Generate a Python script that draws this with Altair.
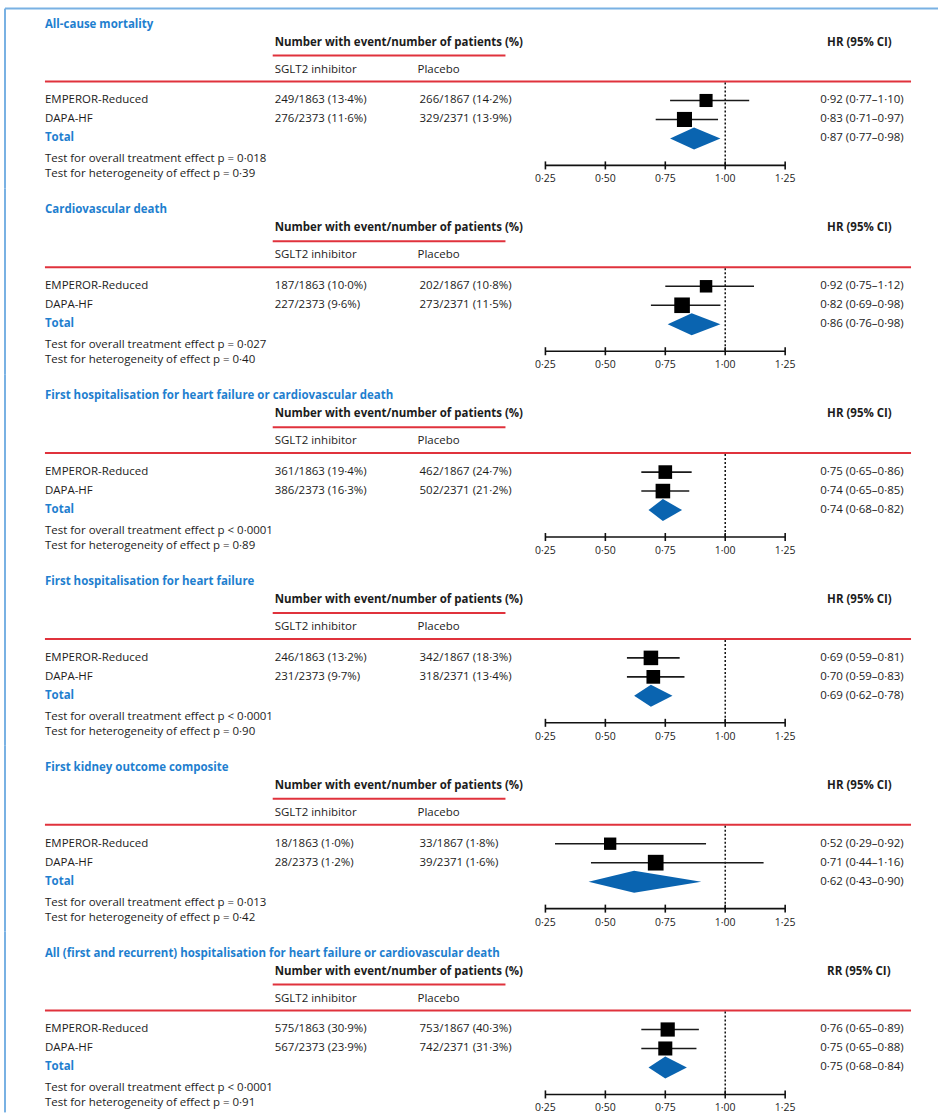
import altair as alt
import pandas as pd

titles = [
    "All-cause mortality",
    "Cardiovascular death",
    "First hospitalisation for heart failure or cardiovascular death",
    "First hospitalisation for heart failure",
    "First kidney outcome composite",
    "All (first and recurrent) hospitalisation for heart failure or cardiovascular death",
]
measure = ["HR", "HR", "HR", "HR", "HR", "RR"]
studies = ["EMPEROR-Reduced", "DAPA-HF"]
sglt2_n = [1863, 2373]
placebo_n = [1867, 2371]
sglt2_events = [[249, 276], [187, 227], [361, 386], [246, 231], [18, 28], [575, 567]]
sglt2_pct = [[13.4, 11.6], [10.0, 9.6], [19.4, 16.3], [13.2, 9.7], [1.0, 1.2], [30.9, 23.9]]
placebo_events = [[266, 329], [202, 273], [462, 502], [342, 318], [33, 39], [753, 742]]
placebo_pct = [[14.2, 13.9], [10.8, 11.5], [24.7, 21.2], [18.3, 13.4], [1.8, 1.6], [40.3, 31.3]]
hr = [[0.92, 0.83], [0.92, 0.82], [0.75, 0.74], [0.69, 0.70], [0.52, 0.71], [0.76, 0.75]]
hr_lo = [[0.77, 0.71], [0.75, 0.69], [0.65, 0.65], [0.59, 0.59], [0.29, 0.44], [0.65, 0.65]]
hr_hi = [[1.10, 0.97], [1.12, 0.98], [0.86, 0.85], [0.81, 0.83], [0.92, 1.16], [0.89, 0.88]]
tot_hr = [0.87, 0.86, 0.74, 0.69, 0.62, 0.75]
tot_lo = [0.77, 0.76, 0.68, 0.62, 0.43, 0.68]
tot_hi = [0.98, 0.98, 0.82, 0.78, 0.90, 0.84]
p_overall = ["= 0·018", "= 0·027", "< 0·0001", "< 0·0001", "= 0·013", "< 0·0001"]
p_het = ["0·39", "0·40", "0·89", "0·90", "0·42", "0·91"]
ticks = [0.25, 0.50, 0.75, 1.00, 1.25]
ref_value = 1.0

FONT = "Open Sans"
FS = 11.5
DARK = "#1c1c1c"
BLUE_T = "#1f7fcf"
RED = "#e0323c"
DIAMOND = "#0a64b0"
FRAME = "#79b1e3"


def d(v, nd=2):
    return f"{v:.{nd}f}".replace(".", "·")


xscale = alt.Scale(domain=[0.25, 1.25], range=[546, 786], zero=False, nice=False)
yscale = alt.Scale(domain=[0, 2], range=[98, 136], zero=False, nice=False)

one = pd.DataFrame({"k": [0]})


def static_text(label, x, y, color=DARK, bold=False, size=FS, align="left"):
    return alt.Chart(one).mark_text(
        text=label, align=align, baseline="middle", font=FONT, fontSize=size,
        fontWeight="bold" if bold else "normal", color=color,
    ).encode(x=alt.value(x), y=alt.value(y))


def hline(x1, x2, y, color, width=2):
    return alt.Chart(one).mark_rule(color=color, strokeWidth=width).encode(
        x=alt.value(x1), x2=alt.value(x2), y=alt.value(y))


def section(i, H):
    evs = [sglt2_events[i][j] + placebo_events[i][j] for j in range(2)]
    rows = pd.DataFrame({
        "study": studies,
        "row": [0, 1],
        "sg": [f"{sglt2_events[i][j]}/{sglt2_n[j]} ({d(sglt2_pct[i][j], 1)}%)" for j in range(2)],
        "pl": [f"{placebo_events[i][j]}/{placebo_n[j]} ({d(placebo_pct[i][j], 1)}%)" for j in range(2)],
        "est": hr[i],
        "lo": hr_lo[i],
        "hi": hr_hi[i],
        "w": [e / sum(evs) for e in evs],
    })
    rows["hrlab"] = [f"{d(hr[i][j])} ({d(hr_lo[i][j])}–{d(hr_hi[i][j])})" for j in range(2)]
    tot = pd.DataFrame({"row": [2], "lab": [f"{d(tot_hr[i])} ({d(tot_lo[i])}–{d(tot_hi[i])})"]})
    half = 0.58
    dia = pd.DataFrame({
        "x": [tot_lo[i], tot_hr[i], tot_hi[i]],
        "y": [2, 2 - half, 2],
        "y2": [2, 2 + half, 2],
    })
    tk = pd.DataFrame({"t": ticks, "lab": [d(t) for t in ticks]})
    axis_df = pd.DataFrame({"a": [min(ticks)], "b": [max(ticks)]})
    ref_df = pd.DataFrame({"r": [ref_value]})

    layers = []
    # frame
    if i == 0:
        layers.append(alt.Chart(one).mark_rule(color=FRAME, strokeWidth=2).encode(
            x=alt.value(5), y=alt.value(6), y2=alt.value(H)))
        layers.append(hline(5, 939, 6, FRAME))
    else:
        layers.append(alt.Chart(one).mark_rule(color=FRAME, strokeWidth=2).encode(
            x=alt.value(5), y=alt.value(0), y2=alt.value(H)))

    layers += [
        static_text(titles[i], 45, 22, color=BLUE_T, bold=True),
        static_text("Number with event/number of patients (%)", 275, 40, bold=True),
        static_text(f"{measure[i]} (95% CI)", 828, 40, bold=True),
        hline(273, 506, 53, RED),
        static_text("SGLT2 inhibitor", 275, 67),
        static_text("Placebo", 418, 67),
        hline(45, 912, 79, RED),
        static_text(f"Test for overall treatment effect p {p_overall[i]}", 45, 157),
        static_text(f"Test for heterogeneity of effect p = {p_het[i]}", 45, 172),
    ]

    base = alt.Chart(rows)
    y_enc = alt.Y("row:Q", scale=yscale, axis=None)
    txt = dict(align="left", baseline="middle", font=FONT, fontSize=FS, color=DARK)
    layers += [
        base.mark_text(**txt).encode(x=alt.value(45), y=y_enc, text="study:N"),
        base.mark_text(**txt).encode(x=alt.value(275), y=y_enc, text="sg:N"),
        base.mark_text(**txt).encode(x=alt.value(420), y=y_enc, text="pl:N"),
        base.mark_text(**txt).encode(x=alt.value(821), y=y_enc, text="hrlab:N"),
        alt.Chart(tot).mark_text(align="left", baseline="middle", font=FONT, fontSize=FS,
                                 fontWeight="bold", color=BLUE_T, text="Total").encode(
            x=alt.value(45), y=y_enc),
        alt.Chart(tot).mark_text(**txt).encode(x=alt.value(821), y=y_enc, text="lab:N"),
        # reference line
        alt.Chart(ref_df).mark_rule(color="#111", strokeWidth=1.5, strokeDash=[2, 2]).encode(
            x=alt.X("r:Q", scale=xscale, axis=None), y=alt.value(80), y2=alt.value(163)),
        # CI
        base.mark_rule(color="#1a1a1a", strokeWidth=1.6).encode(
            x=alt.X("lo:Q", scale=xscale, axis=None), x2="hi:Q", y=y_enc),
        base.mark_square(color="black", opacity=1).encode(
            x=alt.X("est:Q", scale=xscale, axis=None), y=y_enc,
            size=alt.Size("w:Q", scale=alt.Scale(domain=[0.4, 0.6], range=[130, 270]), legend=None)),
        alt.Chart(dia).mark_area(color=DIAMOND, opacity=1).encode(
            x=alt.X("x:Q", scale=xscale, axis=None),
            y=alt.Y("y:Q", scale=yscale, axis=None), y2="y2:Q"),
        # axis
        alt.Chart(axis_df).mark_rule(color="#111", strokeWidth=1.6).encode(
            x=alt.X("a:Q", scale=xscale, axis=None), x2="b:Q", y=alt.value(163)),
        alt.Chart(tk).mark_rule(color="#111", strokeWidth=1.6).encode(
            x=alt.X("t:Q", scale=xscale, axis=None), y=alt.value(159), y2=alt.value(167)),
        alt.Chart(tk).mark_text(align="center", baseline="middle", font=FONT, fontSize=10.5,
                                color=DARK).encode(
            x=alt.X("t:Q", scale=xscale, axis=None), y=alt.value(177), text="lab:N"),
    ]
    return alt.layer(*layers).properties(width=939, height=H)


heights = [186, 186, 186, 186, 186, 181]
chart = alt.vconcat(*[section(i, h) for i, h in enumerate(heights)], spacing=0, bounds="flush").properties(
    padding={"top": 2, "left": 0, "right": 0, "bottom": 0}, background="white"
).configure_view(strokeWidth=0, stroke="transparent")

chart.save("out.html", embed_options={"renderer": "svg", "actions": False})
